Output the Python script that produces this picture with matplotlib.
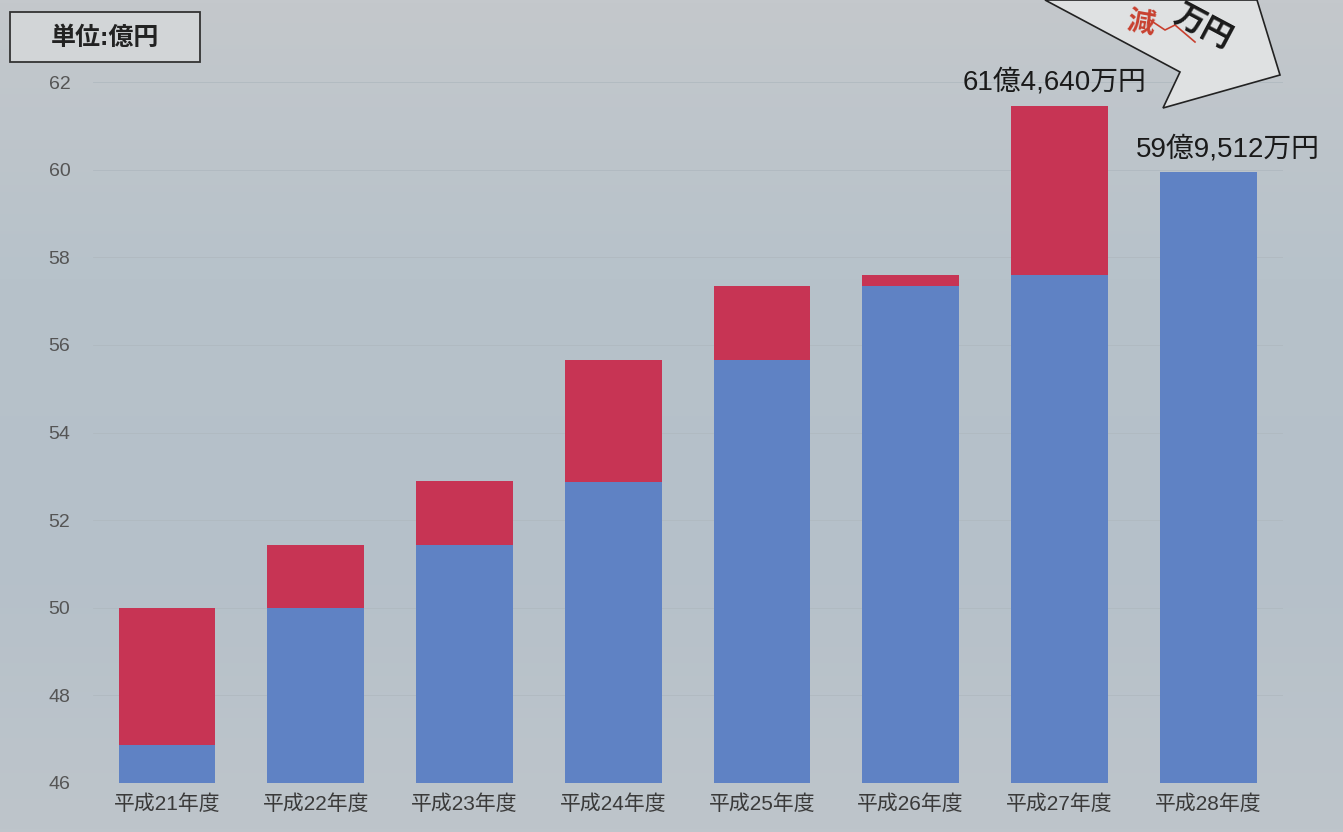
import numpy as np
import matplotlib.pyplot as plt
from matplotlib.patches import Polygon, Rectangle

plt.rcParams['font.family'] = ['Liberation Sans', 'Noto Sans CJK JP']

# Data (億円)
years = ['平成21年度', '平成22年度', '平成23年度', '平成24年度',
         '平成25年度', '平成26年度', '平成27年度', '平成28年度']
base = [46.86, 50.0, 51.43, 52.87, 55.65, 57.34, 57.59, 59.95]
increase = [3.14, 1.43, 1.46, 2.78, 1.69, 0.25, 3.874, 0.0]
y_ticks = [46, 48, 50, 52, 54, 56, 58, 60, 62]
value_labels = {6: '61億4,640万円', 7: '59億9,512万円'}

fig = plt.figure(figsize=(13.43, 8.32), dpi=100)
fig.patch.set_facecolor('#bcc5cc')
W, H = 1343, 832

# soft background gradient
bg = fig.add_axes([0, 0, 1, 1], zorder=0)
grad = np.linspace(0, 1, 256).reshape(-1, 1)
bg.imshow(grad, aspect='auto', cmap=plt.cm.colors.LinearSegmentedColormap.from_list(
    'bg', ['#c4c8cc', '#b7c2ca', '#b5c0c9', '#bec5cb']), extent=[0, 1, 0, 1])
bg.axis('off')

ax = fig.add_axes([0.069, 0.0589, 0.886, 0.8425], zorder=1)
ax.patch.set_alpha(0)

x = np.arange(len(years))
ax.bar(x, np.array(base) - 46, bottom=46, width=0.65, color='#5f82c4')
ax.bar(x, increase, bottom=base, width=0.65, color='#c73454')

ax.set_ylim(46, 62)
ax.set_xlim(-0.5, 7.5)
ax.set_yticks(y_ticks)
ax.set_xticks(x)
ax.set_xticklabels(years, fontsize=15, color='#3a3a3a')
ax.tick_params(axis='y', length=0, pad=16, labelsize=14, labelcolor='#555555')
ax.tick_params(axis='x', length=0, pad=8)
ax.grid(axis='y', color='#b0b9c0', linewidth=0.6)
ax.set_axisbelow(True)
for s in ax.spines.values():
    s.set_visible(False)

for i, lab in value_labels.items():
    top = base[i] + increase[i]
    dx = -0.03 if i == 6 else 0.13
    ax.text(x[i] + dx, top + 0.22, lab, ha='center', va='bottom',
            fontsize=20, color='#1a1a1a')

# unit box
fig.patches.append(Rectangle((10 / W, 1 - 62 / H), 190 / W, 50 / H, transform=fig.transFigure,
                             facecolor='#d2d5d7', edgecolor='#333333', linewidth=1.3, zorder=3))
fig.text(105 / W, 1 - 38 / H, '単位:億円', fontsize=18, fontweight='bold', color='#222222',
         ha='center', va='center', zorder=4)

# arrow callout at top right (partly cut off)
pts = [(1045, 0), (1180, 72), (1163, 108), (1280, 75), (1257, 0)]
arrow = Polygon([(px / W, 1 - py / H) for px, py in pts], closed=True,
                facecolor='#dfe1e2', edgecolor='#222222', linewidth=1.2,
                transform=fig.transFigure, zorder=3)
fig.patches.append(arrow)
fig.text(1203 / W, 1 - 27 / H, '万円', fontsize=22, fontweight='bold', color='#1a1a1a',
         rotation=-28, ha='center', va='center', zorder=4)
fig.text(1140 / W, 1 - 25 / H, '減', fontsize=20, fontweight='bold', color='#c8402f',
         rotation=-10, ha='center', va='center', zorder=4)
fig.lines.append(plt.Line2D([1150 / W, 1165 / W, 1175 / W, 1195 / W],
                            [1 - 20 / H, 1 - 30 / H, 1 - 25 / H, 1 - 42 / H],
                            transform=fig.transFigure, color='#c8402f', linewidth=1.2, zorder=4))

fig.savefig('out.png', dpi=100, facecolor=fig.get_facecolor())
